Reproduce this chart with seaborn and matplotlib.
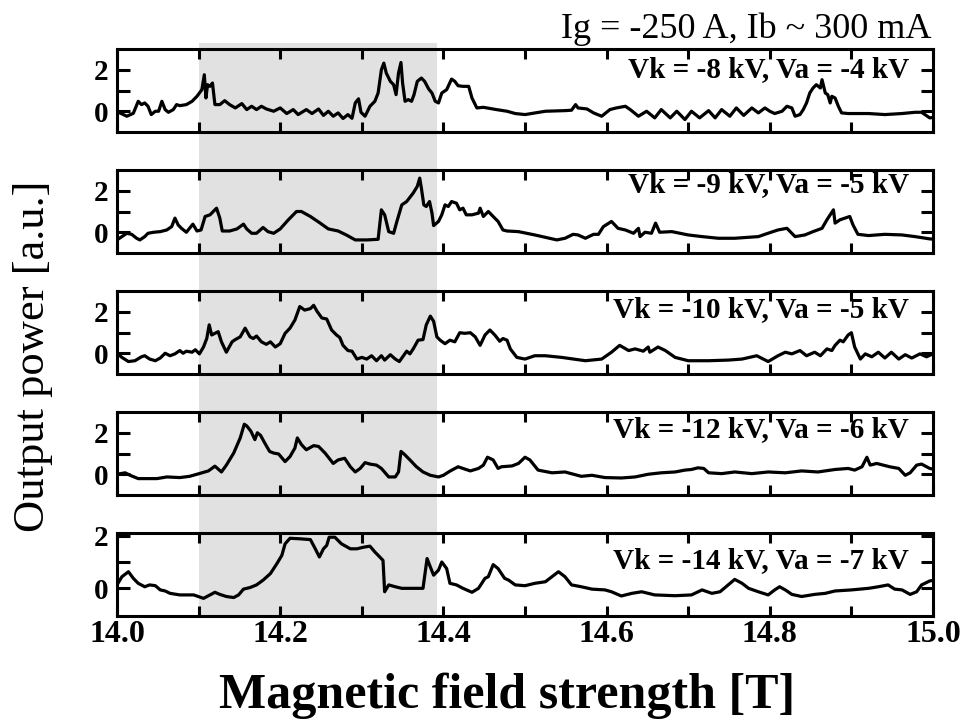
import matplotlib
matplotlib.use("Agg")
import matplotlib.pyplot as plt
import matplotlib.transforms as mtransforms
from matplotlib.patches import Rectangle
from matplotlib.ticker import MultipleLocator, FixedLocator, FormatStrFormatter
import pandas as pd
import seaborn as sns

# Panel 1: Vk = -8 kV, Va = -4 kV
b1 = [14.002, 14.012, 14.020, 14.026, 14.030, 14.034, 14.038, 14.042, 14.047, 14.051,
      14.055, 14.059, 14.063, 14.069, 14.073, 14.077, 14.085, 14.092, 14.098, 14.104,
      14.107, 14.109, 14.111, 14.114, 14.117, 14.120, 14.126, 14.132, 14.138, 14.145,
      14.153, 14.159, 14.165, 14.171, 14.177, 14.183, 14.192, 14.200, 14.208, 14.216,
      14.222, 14.232, 14.239, 14.247, 14.253, 14.259, 14.265, 14.271, 14.277, 14.283,
      14.288, 14.292, 14.296, 14.299, 14.304, 14.310, 14.316, 14.320, 14.324, 14.327,
      14.330, 14.335, 14.339, 14.342, 14.345, 14.348, 14.350, 14.353, 14.357, 14.361,
      14.364, 14.368, 14.373, 14.377, 14.382, 14.386, 14.390, 14.394, 14.398, 14.404,
      14.410, 14.414, 14.418, 14.424, 14.431, 14.435, 14.441, 14.449, 14.465, 14.478,
      14.488, 14.500, 14.525, 14.549, 14.557, 14.562, 14.565, 14.576, 14.584, 14.594,
      14.604, 14.612, 14.623, 14.629, 14.639, 14.649, 14.659, 14.667, 14.678, 14.686,
      14.696, 14.704, 14.714, 14.725, 14.733, 14.741, 14.751, 14.759, 14.768, 14.778,
      14.786, 14.794, 14.800, 14.806, 14.815, 14.821, 14.827, 14.831, 14.837, 14.841,
      14.845, 14.849, 14.853, 14.857, 14.862, 14.864, 14.868, 14.871, 14.874, 14.876,
      14.880, 14.884, 14.888, 14.896, 14.921, 14.941, 14.962, 14.978, 14.986, 14.996,
      15.000]
p1 = [-0.05, -0.24, -0.10, 0.48, 0.32, 0.40, 0.24, -0.16, 0.00, 0.00,
      0.48, 0.08, -0.05, 0.08, 0.32, 0.27, 0.32, 0.48, 0.72, 1.04,
      1.76, 0.64, 1.28, 1.20, 1.36, 0.32, 0.32, 0.51, 0.32, 0.16,
      0.37, 0.08, 0.24, 0.08, 0.24, 0.11, 0.00, 0.16, -0.11, 0.08,
      -0.16, 0.08, -0.11, 0.11, -0.20, 0.00, -0.24, -0.08, -0.35, -0.16,
      -0.34, 0.40, 0.60, -0.05, -0.24, 0.24, 0.48, 0.88, 2.00, 2.32,
      1.84, 1.44, 1.28, 0.80, 1.84, 2.35, 1.36, 0.48, 0.56, 0.48,
      0.80, 1.44, 1.60, 1.44, 1.07, 0.88, 0.48, 0.40, 0.88, 1.04,
      1.55, 1.44, 1.23, 1.20, 1.20, 0.64, 0.16, 0.19, 0.08, 0.00,
      -0.11, -0.16, 0.00, 0.03, 0.05, 0.32, 0.16, 0.11, -0.08, -0.24,
      0.08, 0.16, 0.24, 0.08, -0.24, 0.00, -0.32, 0.08, -0.32, 0.00,
      -0.40, 0.00, -0.32, 0.03, -0.32, 0.08, -0.24, 0.16, -0.20, 0.16,
      -0.08, 0.16, 0.00, -0.11, 0.00, 0.24, 0.16, -0.24, -0.16, 0.08,
      0.40, 0.88, 1.12, 1.28, 1.12, 1.52, 0.88, 0.80, 0.40, 0.72,
      0.64, 0.24, -0.08, -0.11, -0.11, -0.16, -0.11, -0.05, -0.05, -0.32,
      -0.30]

# Panel 2: Vk = -9 kV, Va = -5 kV
b2 = [14.000, 14.006, 14.012, 14.018, 14.024, 14.028, 14.034, 14.038, 14.045, 14.053,
      14.061, 14.067, 14.071, 14.075, 14.079, 14.085, 14.093, 14.098, 14.103, 14.108,
      14.114, 14.122, 14.126, 14.129, 14.138, 14.147, 14.155, 14.159, 14.165, 14.171,
      14.179, 14.185, 14.192, 14.200, 14.210, 14.220, 14.226, 14.237, 14.249, 14.259,
      14.271, 14.281, 14.292, 14.306, 14.320, 14.324, 14.328, 14.333, 14.339, 14.343,
      14.349, 14.355, 14.363, 14.368, 14.371, 14.373, 14.376, 14.379, 14.383, 14.386,
      14.388, 14.394, 14.398, 14.402, 14.406, 14.410, 14.416, 14.420, 14.424, 14.428,
      14.435, 14.443, 14.445, 14.449, 14.455, 14.461, 14.467, 14.473, 14.478, 14.492,
      14.512, 14.539, 14.549, 14.559, 14.565, 14.574, 14.584, 14.590, 14.596, 14.606,
      14.614, 14.623, 14.633, 14.639, 14.641, 14.647, 14.655, 14.660, 14.665, 14.680,
      14.700, 14.717, 14.737, 14.757, 14.786, 14.794, 14.810, 14.821, 14.831, 14.843,
      14.853, 14.864, 14.870, 14.874, 14.878, 14.880, 14.886, 14.892, 14.898, 14.902,
      14.908, 14.921, 14.941, 14.962, 14.978, 14.996, 15.000]
p2 = [-0.37, -0.21, -0.05, -0.10, -0.29, -0.37, -0.21, -0.05, 0.00, 0.03,
      0.11, 0.27, 0.68, 0.35, 0.19, 0.00, 0.39, 0.06, 0.11, 0.76,
      0.84, 1.16, 0.68, 0.06, 0.06, 0.16, 0.39, 0.16, -0.05, -0.05,
      0.23, 0.03, -0.05, 0.16, 0.60, 1.00, 1.00, 0.76, 0.44, 0.16,
      0.06, -0.13, -0.37, -0.37, -0.34, 1.08, 0.84, 0.03, -0.05, 0.52,
      1.32, 1.48, 1.89, 2.21, 2.61, 2.13, 1.32, 1.24, 1.48, 0.92,
      0.32, 0.52, 0.84, 1.32, 1.24, 1.48, 1.40, 1.08, 1.16, 0.84,
      0.84, 0.92, 1.16, 0.76, 1.00, 0.76, 0.52, 0.11, 0.06, 0.03,
      -0.13, -0.37, -0.29, -0.10, -0.13, -0.29, -0.10, -0.10, 0.27, 0.52,
      0.19, 0.11, -0.05, 0.19, -0.21, 0.00, -0.05, 0.44, 0.00, 0.03,
      -0.13, -0.21, -0.29, -0.29, -0.21, -0.10, 0.11, 0.19, -0.21, -0.13,
      0.03, 0.19, 0.60, 0.84, 1.08, 0.44, 0.60, 0.68, 0.76, 0.35,
      -0.10, -0.16, -0.10, -0.13, -0.21, -0.32, -0.33]

# Panel 3: Vk = -10 kV, Va = -5 kV
b3 = [14.000, 14.006, 14.014, 14.022, 14.030, 14.034, 14.040, 14.047, 14.053, 14.059,
      14.065, 14.071, 14.077, 14.081, 14.085, 14.092, 14.096, 14.101, 14.106, 14.110,
      14.113, 14.116, 14.120, 14.124, 14.128, 14.134, 14.141, 14.145, 14.151, 14.157,
      14.163, 14.167, 14.171, 14.177, 14.183, 14.188, 14.194, 14.200, 14.206, 14.212,
      14.218, 14.224, 14.230, 14.237, 14.241, 14.245, 14.251, 14.257, 14.263, 14.269,
      14.273, 14.277, 14.283, 14.288, 14.294, 14.300, 14.306, 14.312, 14.318, 14.324,
      14.328, 14.335, 14.341, 14.346, 14.351, 14.355, 14.359, 14.363, 14.369, 14.375,
      14.379, 14.384, 14.388, 14.392, 14.396, 14.402, 14.408, 14.414, 14.420, 14.426,
      14.433, 14.439, 14.445, 14.451, 14.457, 14.463, 14.469, 14.473, 14.478, 14.482,
      14.490, 14.500, 14.512, 14.525, 14.545, 14.574, 14.594, 14.606, 14.616, 14.627,
      14.635, 14.645, 14.651, 14.653, 14.663, 14.672, 14.684, 14.700, 14.725, 14.749,
      14.766, 14.784, 14.798, 14.810, 14.819, 14.827, 14.837, 14.845, 14.855, 14.862,
      14.870, 14.876, 14.880, 14.886, 14.890, 14.896, 14.900, 14.904, 14.911, 14.917,
      14.925, 14.933, 14.941, 14.949, 14.958, 14.966, 14.974, 14.984, 14.992, 15.000]
p3 = [0.00, -0.20, -0.40, -0.36, -0.17, -0.12, -0.28, -0.36, -0.23, 0.00,
      -0.12, -0.03, 0.13, 0.00, 0.10, 0.05, 0.17, -0.03, 0.30, 0.71,
      1.37, 0.88, 0.96, 1.04, 0.55, 0.05, 0.55, 0.66, 0.79, 1.21,
      0.79, 0.71, 0.83, 0.55, 0.43, 0.55, 0.30, 0.46, 0.96, 1.21,
      1.60, 2.25, 2.08, 2.15, 2.31, 2.03, 1.70, 1.65, 1.12, 0.88,
      0.76, 0.38, 0.13, 0.10, -0.28, -0.20, -0.28, -0.12, -0.36, -0.12,
      -0.33, -0.07, -0.28, -0.40, -0.12, 0.10, -0.03, 0.21, 0.63, 0.66,
      1.37, 1.79, 1.54, 0.79, 0.63, 0.46, 0.63, 0.55, 0.99, 0.96,
      0.99, 0.79, 0.38, 0.88, 1.12, 0.88, 0.58, 0.71, 0.63, 0.21,
      -0.20, -0.28, -0.12, -0.12, -0.20, -0.36, -0.28, 0.05, 0.38, 0.13,
      0.21, 0.10, 0.30, 0.05, 0.30, 0.13, -0.20, -0.36, -0.36, -0.33,
      -0.28, -0.12, -0.40, -0.12, 0.05, -0.03, 0.13, -0.12, 0.05, -0.12,
      0.21, 0.13, 0.38, 0.63, 0.55, 0.88, 0.99, 0.30, -0.28, -0.03,
      -0.17, 0.05, -0.23, 0.05, -0.28, -0.07, -0.23, -0.03, -0.17, -0.03]

# Panel 4: Vk = -12 kV, Va = -6 kV
b4 = [14.000, 14.010, 14.016, 14.026, 14.049, 14.061, 14.077, 14.089, 14.098, 14.112,
      14.120, 14.128, 14.134, 14.143, 14.151, 14.156, 14.159, 14.164, 14.169, 14.172,
      14.176, 14.181, 14.187, 14.192, 14.198, 14.206, 14.212, 14.218, 14.221, 14.226,
      14.232, 14.241, 14.247, 14.255, 14.265, 14.271, 14.279, 14.286, 14.292, 14.298,
      14.304, 14.310, 14.318, 14.324, 14.333, 14.341, 14.345, 14.348, 14.353, 14.359,
      14.367, 14.375, 14.384, 14.394, 14.400, 14.408, 14.418, 14.424, 14.433, 14.443,
      14.449, 14.454, 14.461, 14.467, 14.471, 14.484, 14.492, 14.500, 14.506, 14.516,
      14.533, 14.549, 14.569, 14.582, 14.598, 14.618, 14.635, 14.651, 14.667, 14.684,
      14.696, 14.704, 14.712, 14.719, 14.725, 14.741, 14.757, 14.778, 14.798, 14.819,
      14.839, 14.859, 14.880, 14.896, 14.904, 14.913, 14.919, 14.923, 14.931, 14.939,
      14.947, 14.958, 14.966, 14.972, 14.980, 14.986, 14.996, 15.000]
p4 = [0.00, 0.07, -0.05, -0.21, -0.21, -0.13, -0.16, -0.10, 0.00, 0.16,
      0.39, 0.11, 0.44, 1.02, 1.75, 2.41, 2.33, 2.08, 1.67, 2.00,
      1.87, 1.51, 1.10, 1.02, 0.98, 0.61, 0.85, 1.26, 1.75, 1.43,
      1.18, 1.38, 1.34, 1.02, 0.52, 0.69, 0.77, 0.36, 0.11, 0.28,
      0.56, 0.49, 0.44, 0.28, -0.13, -0.13, 0.11, 1.10, 0.93, 0.69,
      0.36, 0.11, -0.05, -0.13, -0.05, 0.15, 0.36, 0.28, 0.16, 0.28,
      0.44, 0.82, 0.69, 0.28, 0.36, 0.40, 0.52, 0.82, 0.69, 0.20,
      0.07, 0.11, -0.10, -0.05, -0.16, -0.18, -0.13, 0.00, 0.07, 0.11,
      0.20, 0.23, 0.31, 0.28, 0.07, 0.03, 0.11, 0.03, 0.11, 0.07,
      0.16, 0.11, 0.23, 0.28, 0.20, 0.36, 0.82, 0.44, 0.52, 0.44,
      0.36, 0.28, -0.05, 0.07, 0.44, 0.49, 0.28, 0.25]

# Panel 5: Vk = -14 kV, Va = -7 kV
b5 = [14.000, 14.006, 14.014, 14.020, 14.026, 14.034, 14.040, 14.047, 14.053, 14.059,
      14.065, 14.077, 14.094, 14.106, 14.114, 14.120, 14.126, 14.134, 14.143, 14.149,
      14.155, 14.163, 14.171, 14.179, 14.188, 14.196, 14.202, 14.206, 14.212, 14.224,
      14.237, 14.243, 14.248, 14.253, 14.257, 14.260, 14.267, 14.275, 14.286, 14.294,
      14.302, 14.310, 14.316, 14.322, 14.326, 14.328, 14.333, 14.341, 14.349, 14.363,
      14.375, 14.380, 14.384, 14.388, 14.394, 14.398, 14.404, 14.408, 14.416, 14.424,
      14.435, 14.443, 14.451, 14.455, 14.461, 14.467, 14.475, 14.480, 14.488, 14.500,
      14.512, 14.525, 14.533, 14.541, 14.549, 14.557, 14.569, 14.582, 14.598, 14.606,
      14.618, 14.631, 14.643, 14.659, 14.684, 14.704, 14.717, 14.729, 14.739, 14.749,
      14.757, 14.766, 14.774, 14.786, 14.798, 14.806, 14.812, 14.819, 14.827, 14.839,
      14.855, 14.868, 14.880, 14.900, 14.921, 14.933, 14.945, 14.953, 14.962, 14.972,
      14.980, 14.986, 14.996, 15.000]
p5 = [0.13, 0.44, 0.63, 0.38, 0.19, 0.06, 0.13, 0.10, -0.06, -0.10,
      -0.19, -0.25, -0.25, -0.38, -0.25, -0.15, -0.23, -0.31, -0.35, -0.25,
      -0.03, 0.03, 0.13, 0.31, 0.56, 0.94, 1.25, 1.69, 1.90, 1.88,
      1.85, 1.50, 1.19, 1.50, 1.63, 1.94, 1.94, 1.69, 1.50, 1.50,
      1.56, 1.60, 1.38, 1.19, 1.06, -0.13, 0.13, 0.06, 0.00, 0.00,
      0.00, 1.13, 0.81, 0.50, 0.69, 1.00, 0.75, 0.19, 0.13, 0.00,
      -0.15, 0.00, 0.38, 0.44, 0.90, 0.75, 0.38, 0.31, 0.13, 0.10,
      0.19, 0.25, 0.44, 0.63, 0.44, 0.13, 0.06, -0.03, -0.06, -0.13,
      -0.29, -0.19, -0.13, -0.25, -0.28, -0.25, -0.06, -0.19, -0.13, 0.13,
      0.34, 0.19, 0.00, -0.13, -0.25, -0.06, 0.06, -0.06, -0.23, -0.31,
      -0.23, -0.19, -0.10, -0.06, 0.00, 0.06, 0.13, -0.03, -0.06, -0.23,
      -0.13, 0.13, 0.28, 0.30]

fields = [b1, b2, b3, b4, b5]
powers = [p1, p2, p3, p4, p5]
labels = ["Vk = -8 kV, Va = -4 kV", "Vk = -9 kV, Va = -5 kV", "Vk = -10 kV, Va = -5 kV",
          "Vk = -12 kV, Va = -6 kV", "Vk = -14 kV, Va = -7 kV"]
ylims = [(-1.0, 3.0), (-1.0, 3.0), (-1.0, 3.0), (-1.0, 3.0), (-1.05, 2.1)]
label_y = [0.663, 0.735, 0.687, 0.699, 0.578]
shade_start, shade_end = 14.1, 14.392

sns.set_style("ticks")
plt.rcParams['font.family'] = ['Liberation Serif', 'DejaVu Serif']
plt.rcParams['font.weight'] = 'bold'
for key in ['text.color', 'axes.labelcolor', 'xtick.color', 'ytick.color', 'axes.edgecolor']:
    plt.rcParams[key] = 'black'

W, H = 962, 720
fig = plt.figure(figsize=(W / 100, H / 100), dpi=100)

axes = []
for i in range(5):
    top = 49 + i * 121
    ax = fig.add_axes([117 / W, 1 - (top + 83) / H, 816 / W, 83 / H])
    ax.set_facecolor('none')
    df = pd.DataFrame({'B': fields[i], 'P': powers[i]})
    sns.lineplot(data=df, x='B', y='P', ax=ax, color='black', linewidth=2.3,
                 estimator=None, sort=False)
    ax.set_xlim(14.0, 15.0)
    ax.set_ylim(*ylims[i])
    ax.xaxis.set_major_locator(MultipleLocator(0.2))
    ax.xaxis.set_minor_locator(MultipleLocator(0.1))
    ax.xaxis.set_major_formatter(FormatStrFormatter('%.1f'))
    ax.yaxis.set_major_locator(FixedLocator([0, 2]))
    ax.yaxis.set_minor_locator(FixedLocator([1]))
    ax.tick_params(which='both', direction='in', top=True, right=True, width=2.2,
                   color='black', labelcolor='black')
    ax.tick_params(axis='x', which='both', length=7.5, labelsize=23, pad=3)
    ax.tick_params(axis='y', which='both', length=9, labelsize=21, pad=6)
    if i < 4:
        ax.tick_params(axis='x', labelbottom=False)
    for s in ax.spines.values():
        s.set_linewidth(2.2)
        s.set_color('black')
    ax.set_xlabel('')
    ax.set_ylabel('')
    ax.text(0.971, label_y[i], labels[i], transform=ax.transAxes, ha='right',
            va='baseline', fontsize=21, fontweight='bold', color='black')
    axes.append(ax)

# grey band across all panels
trans = mtransforms.blended_transform_factory(axes[-1].transData, fig.transFigure)
y_bot = 1 - (49 + 4 * 121 + 83) / H
y_top = 1 - 43 / H
fig.add_artist(Rectangle((shade_start, y_bot), shade_end - shade_start, y_top - y_bot,
                         transform=trans, facecolor='#e1e1e1', edgecolor='none', zorder=-1))

fig.text(507 / W, 1 - 708 / H, "Magnetic field strength [T]", ha='center', va='baseline',
         fontsize=36, fontweight='bold', color='black')
fig.text(33 / W, 1 - 356 / H, "Output power [a.u.]", ha='center', va='center',
         rotation=90, fontsize=32, fontweight='normal', color='black')
fig.text(932 / W, 1 - 38 / H, "Ig = -250 A, Ib ~ 300 mA", ha='right', va='baseline',
         fontsize=26, fontweight='normal', color='black')

fig.savefig("out.png", dpi=100)
